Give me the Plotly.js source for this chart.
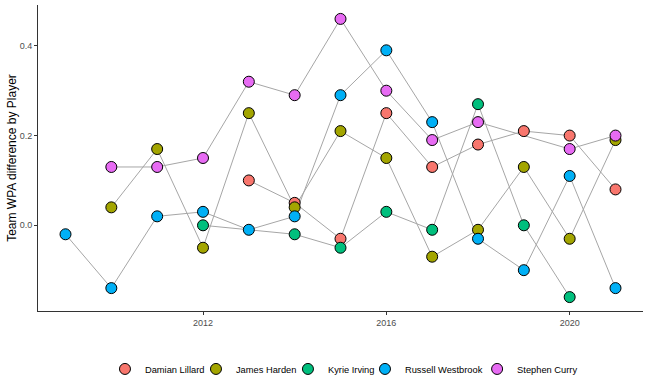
<!DOCTYPE html>
<html>
<head>
<meta charset="utf-8">
<script src="https://cdn.plot.ly/plotly-3.0.1.min.js"></script>
<style>html,body{margin:0;padding:0;background:#fff;}#chart{width:650px;height:390px;}</style>
</head>
<body>
<div id="chart"></div>
<script>
const players = ["Damian Lillard", "James Harden", "Kyrie Irving", "Russell Westbrook", "Stephen Curry"];
const colors = ["#F8766D", "#A3A500", "#00BF7D", "#00B0F6", "#E76BF3"];

const lillardYears = [2013, 2014, 2015, 2016, 2017, 2018, 2019, 2020, 2021];
const lillardWPA   = [0.10, 0.05, -0.03, 0.25, 0.13, 0.18, 0.21, 0.20, 0.08];

const hardenYears = [2010, 2011, 2012, 2013, 2014, 2015, 2016, 2017, 2018, 2019, 2020, 2021];
const hardenWPA   = [0.04, 0.17, -0.05, 0.25, 0.04, 0.21, 0.15, -0.07, -0.01, 0.13, -0.03, 0.19];

const irvingYears = [2012, 2014, 2015, 2016, 2017, 2018, 2019, 2020];
const irvingWPA   = [0.00, -0.02, -0.05, 0.03, -0.01, 0.27, 0.00, -0.16];

const westbrookYears = [2009, 2010, 2011, 2012, 2013, 2014, 2015, 2016, 2017, 2018, 2019, 2020, 2021];
const westbrookWPA   = [-0.02, -0.14, 0.02, 0.03, -0.01, 0.02, 0.29, 0.39, 0.23, -0.03, -0.10, 0.11, -0.14];

const curryYears = [2010, 2011, 2012, 2013, 2014, 2015, 2016, 2017, 2018, 2020, 2021];
const curryWPA   = [0.13, 0.13, 0.15, 0.32, 0.29, 0.46, 0.30, 0.19, 0.23, 0.17, 0.20];

const xTicks = [2012, 2016, 2020];
const yTicks = [0.0, 0.2, 0.4];
const yTickText = ["0.0", "0.2", "0.4"];

const series = [
  [lillardYears, lillardWPA],
  [hardenYears, hardenWPA],
  [irvingYears, irvingWPA],
  [westbrookYears, westbrookWPA],
  [curryYears, curryWPA]
];

// legend slot positions (container fraction) for each player's legend entry
const legendX = [0.1615, 0.3015, 0.443, 0.5615, 0.734];
const legendNames = ["legend", "legend2", "legend3", "legend4", "legend5"];

const traces = [];
series.forEach((s, i) => {
  traces.push({
    x: s[0], y: s[1], type: 'scatter', mode: 'lines',
    line: {color: '#a6a6a6', width: 1},
    showlegend: false, hoverinfo: 'skip'
  });
});
series.forEach((s, i) => {
  traces.push({
    x: s[0], y: s[1], type: 'scatter', mode: 'markers', name: players[i],
    marker: {color: colors[i], size: 11, line: {color: '#000000', width: 1}},
    showlegend: true, legend: legendNames[i]
  });
});

const layout = {
  width: 650, height: 390,
  margin: {l: 38, r: 7, t: 5, b: 79},
  paper_bgcolor: '#ffffff', plot_bgcolor: '#ffffff',
  font: {family: 'Liberation Sans, Arial, sans-serif', color: '#4d4d4d', size: 9},
  xaxis: {
    range: [2008.4, 2021.6], tickvals: xTicks, ticktext: xTicks.map(String),
    showgrid: false, zeroline: false, showline: true, linecolor: '#333333', linewidth: 1,
    ticks: 'outside', ticklen: 3, tickcolor: '#333333', tickwidth: 1,
    tickfont: {size: 9, color: '#4d4d4d'}
  },
  yaxis: {
    range: [-0.191, 0.491], tickvals: yTicks, ticktext: yTickText,
    showgrid: false, zeroline: false, showline: true, linecolor: '#333333', linewidth: 1,
    ticks: 'outside', ticklen: 3, tickcolor: '#333333', tickwidth: 1,
    tickfont: {size: 9, color: '#4d4d4d'}, automargin: true,
    title: {text: 'Team WPA difference by Player', font: {size: 12, color: '#000000'}, standoff: 0}
  },
  showlegend: true
};
legendNames.forEach((ln, i) => {
  layout[ln] = {
    orientation: 'h', xref: 'container', yref: 'container',
    x: legendX[i], xanchor: 'left', y: 0.054, yanchor: 'middle',
    font: {size: 9.3, color: '#000000'}, bgcolor: 'rgba(0,0,0,0)', borderwidth: 0
  };
});

Plotly.newPlot('chart', traces, layout, {displayModeBar: false, staticPlot: true});
</script>
</body>
</html>
